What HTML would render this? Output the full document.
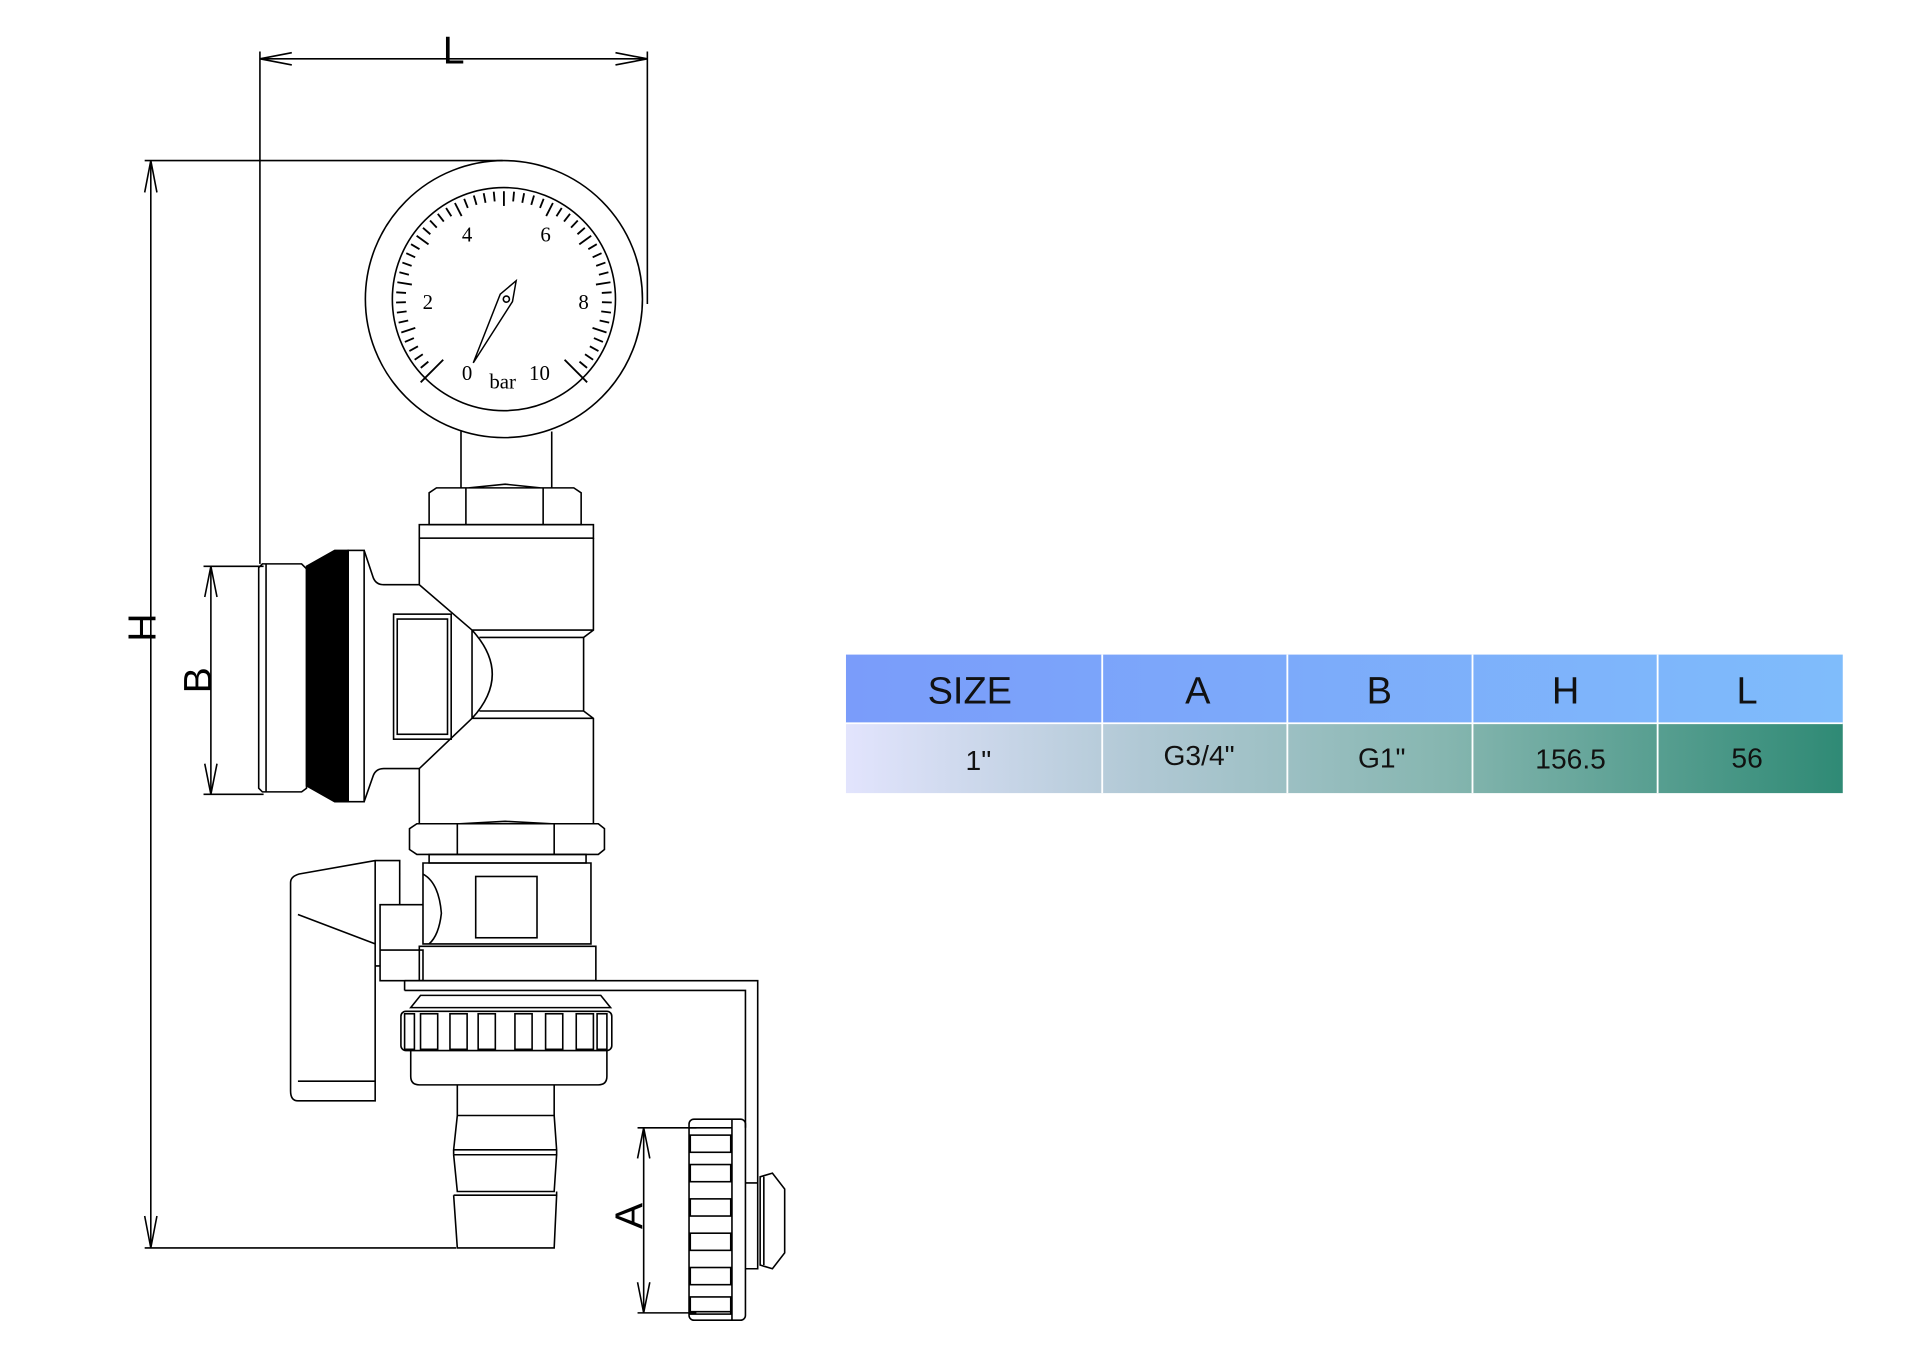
<!DOCTYPE html>
<html><head><meta charset="utf-8"><style>
html,body{margin:0;padding:0;background:#fff;}
svg{display:block}
</style></head><body>
<svg id="s" width="1920" height="1357" viewBox="0 0 1566 1107" preserveAspectRatio="none" xmlns="http://www.w3.org/2000/svg">
<defs>
<linearGradient id="hg" x1="0" x2="1" y1="0" y2="0"><stop offset="0" stop-color="#7a9cfa"/><stop offset="1" stop-color="#7fbcfb"/></linearGradient>
<linearGradient id="rg" x1="0" x2="1" y1="0" y2="0"><stop offset="0" stop-color="#e2e4fd"/><stop offset="0.3" stop-color="#b0c8d4"/><stop offset="0.6" stop-color="#86b6b0"/><stop offset="1" stop-color="#2f8a75"/></linearGradient>
</defs>
<!-- table -->
<rect x="690" y="534" width="813" height="56" fill="url(#hg)"/>
<rect x="690" y="590" width="813" height="57" fill="url(#rg)"/>
<g stroke="#fff" stroke-width="1.5"><line x1="899" y1="534" x2="899" y2="647"/><line x1="1050" y1="534" x2="1050" y2="647"/><line x1="1201" y1="534" x2="1201" y2="647"/><line x1="1352" y1="534" x2="1352" y2="647"/><line x1="690" y1="590" x2="1503" y2="590"/></g>
<g font-family="Liberation Sans, sans-serif" text-anchor="middle" fill="#111">
<text x="791" y="574" font-size="31">SIZE</text><text x="977" y="574" font-size="31">A</text><text x="1125" y="574" font-size="31">B</text><text x="1277" y="574" font-size="31">H</text><text x="1425" y="574" font-size="31">L</text>
<text x="798" y="628" font-size="23">1"</text><text x="978" y="624" font-size="23">G3/4"</text><text x="1127" y="626" font-size="23">G1"</text><text x="1281" y="627" font-size="23">156.5</text><text x="1425" y="626" font-size="23">56</text>
</g>
<g fill="none" stroke="#000" stroke-width="1.3">
<!-- dimensions -->
<line x1="212" y1="48" x2="528" y2="48"/><path d="M238 43 L212 48 L238 53 M502 43 L528 48 L502 53"/>
<line x1="212" y1="42" x2="212" y2="460"/><line x1="528" y1="42" x2="528" y2="248"/>
<line x1="123" y1="131" x2="123" y2="1018"/><path d="M118 157 L123 131 L128 157 M118 992 L123 1018 L128 992"/>
<line x1="118" y1="131" x2="410" y2="131"/><line x1="118" y1="1018" x2="372" y2="1018"/>
<line x1="172" y1="462" x2="172" y2="648"/><path d="M167 487 L172 462 L177 487 M167 623 L172 648 L177 623"/>
<line x1="166" y1="462" x2="215" y2="462"/><line x1="166" y1="648" x2="215" y2="648"/>
<line x1="525" y1="920" x2="525" y2="1071"/><path d="M520 945 L525 920 L530 945 M520 1046 L525 1071 L530 1046"/>
<line x1="520" y1="920" x2="568" y2="920"/><line x1="520" y1="1071" x2="568" y2="1071"/>
<!-- gauge -->
<circle cx="411" cy="244" r="113"/><circle cx="411" cy="244" r="91"/>
<g id="ticks"></g>
<path d="M386 296 L408 240 L421 229 L418 246 Z" stroke-width="1.2"/><circle cx="413" cy="244" r="2.5"/>
<!-- stem -->
<path d="M376 352 V398 M450 352 V398"/>
<!-- top hex nut -->
<path d="M350 402 L356 398 H468 L474 402 V428 H350 Z M380 398 V428 M443 398 V428 M382 398 L412 395 L441 398"/>
<!-- body -->
<rect x="342" y="428" width="142" height="11"/>
<path d="M484 439 V514 L476 520 V580 L484 586 V672 M342 439 V477 L385 514 M342 672 V627 L385 586 M385 514 V586 M385 514 Q418 550 385 586 M385 514 H484 M391 520 H476 M391 580 H476 M385 586 H484"/>
<!-- left branch -->
<path d="M297 449 L304 470 Q306 477 313 477 H342 M297 654 L304 634 Q306 627 313 627 H342"/>
<rect x="284" y="449" width="13" height="205"/>
<rect x="321" y="501" width="47" height="102"/><rect x="324" y="505" width="41" height="94"/>
<path d="M250 462 L273 449 H284 V654 H273 L250 641 Z" fill="#000"/>
<path d="M211 463 L214 460 H246 L250 464 V643 L246 646 H214 L211 643 Z M217 460 V646"/>
<!-- lower nut -->
<path d="M334 676 L340 672 H488 L493 676 V693 L488 697 H340 L334 693 Z M373 672 V697 M452 672 V697 M375 672 L412 670 L450 672"/>
<!-- ball valve -->
<path d="M350 697 H478 V704 H350 Z"/>
<path d="M345 704 H482 V770 H345 Z"/><rect x="388" y="715" width="50" height="50"/>
<path d="M345 713 Q358 720 360 745 Q358 763 350 770"/>
<path d="M342 772 H486 V800 H342 Z"/>
<!-- handle -->
<path d="M244 713 L306 702 H326 V738 H310 V788 H306 V898 H243 Q237 898 237 890 V720 Q237 715 244 713 Z M306 702 V788 M243 746 L306 770 M243 882 H306 M310 738 H345 M310 775 H345 V800 H310 V775"/>
<!-- pipe lines -->
<path d="M330 800 H618 V965 M330 808 H608 V920 M330 800 V808"/>
<!-- union nut -->
<path d="M343 812 H490 L498 822 H335 Z"/>
<rect x="327" y="825" width="172" height="32" rx="4"/>
<g id="teeth"></g>
<path d="M335 857 V878 Q335 885 342 885 H488 Q495 885 495 878 V857"/>
<!-- hose tail -->
<path d="M373 885 V910 H452 V885 M373 910 L370 938 H454 L452 910 M370 942 L373 972 H452 L454 942 M370 942 H454 V938 M370 975 L373 1018 H452 L454 975 M370 975 H454 V972 M370 938 V942"/>
<!-- cap -->
<rect x="562" y="913" width="46" height="164" rx="4"/>
<path d="M562 920 H597 M562 1070 H597 M597 913 V1077 M608 965 H618 V1035 H608"/>
<path d="M620 960 L630 957 L640 970 V1022 L630 1035 L620 1032 Z M623 960 V1032"/>
<g id="capt"></g>
</g>
<g font-family="Liberation Serif, serif" font-size="17" fill="#000" text-anchor="middle">
<text x="381" y="197">4</text><text x="445" y="197">6</text><text x="349" y="252">2</text><text x="476" y="252">8</text><text x="381" y="310">0</text><text x="440" y="310">10</text><text x="410" y="317">bar</text>
</g>
<g font-family="Liberation Sans, sans-serif" font-size="32" fill="#000" text-anchor="middle">
<text x="370" y="52">L</text>
<text transform="translate(127,512) rotate(-90)">H</text>
<text transform="translate(172,555) rotate(-90)">B</text>
<text transform="translate(524,992) rotate(-90)">A</text>
</g>
</svg>
<script>
var ns="http://www.w3.org/2000/svg";
var t=document.getElementById("ticks");
for(var i=0;i<=50;i++){var a=(-135+5.4*i)*Math.PI/180;var maj=i%5==0;var r1=maj?76:80;var r2=88;
if(i==0||i==50){r1=70;r2=96;}
var l=document.createElementNS(ns,"line");var cx=411,cy=244;
l.setAttribute("x1",cx+r1*Math.sin(a));l.setAttribute("y1",cy-r1*Math.cos(a));l.setAttribute("x2",cx+r2*Math.sin(a));l.setAttribute("y2",cy-r2*Math.cos(a));l.setAttribute("stroke-width","1.5");t.appendChild(l);}
var te=document.getElementById("teeth");
var xs=[330,343,367,390,420,445,470,487];
for(var j=0;j<xs.length;j++){var r=document.createElementNS(ns,"rect");r.setAttribute("x",xs[j]);r.setAttribute("y",827);r.setAttribute("width",j==0||j==7?8:14);r.setAttribute("height",29);te.appendChild(r);}
var ct=document.getElementById("capt");
var ys=[926,950,978,1006,1034,1058];
for(var k=0;k<ys.length;k++){var r=document.createElementNS(ns,"rect");r.setAttribute("x",563);r.setAttribute("y",ys[k]);r.setAttribute("width",33);r.setAttribute("height",14);ct.appendChild(r);}
</script>
</body></html>
